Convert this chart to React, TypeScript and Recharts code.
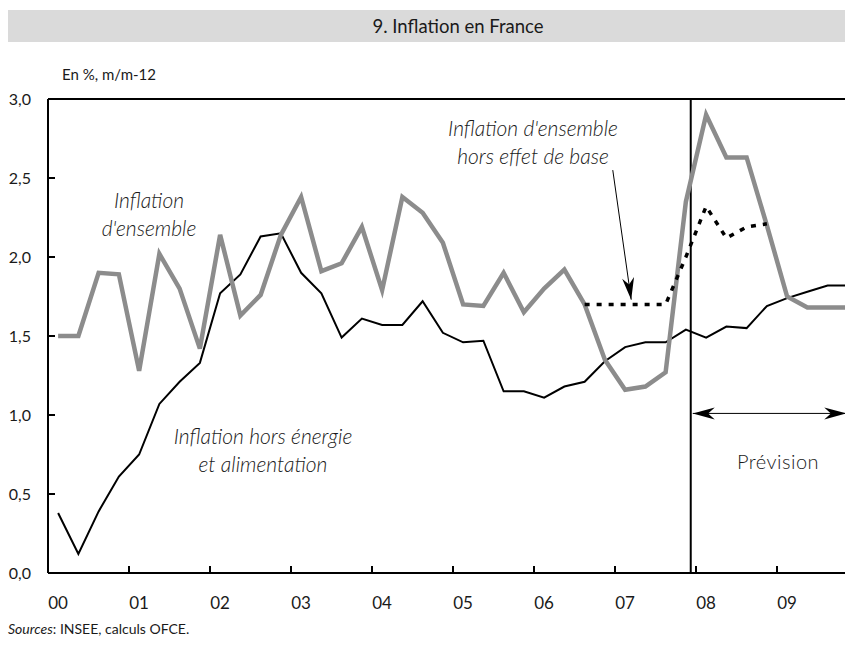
import { LineChart, Line, XAxis, YAxis, ReferenceLine } from 'recharts'

// années affichées sur l'axe (une étiquette par année, données trimestrielles)
const years = ['00', '01', '02', '03', '04', '05', '06', '07', '08', '09']
const quarters = years.flatMap((y) => ['T1', 'T2', 'T3', 'T4'].map((q) => y + q))

// Inflation d'ensemble (gris épais)
const ensemble = [
  1.5, 1.5, 1.9, 1.89, 1.28, 2.02, 1.8, 1.42, 2.14, 1.63,
  1.76, 2.14, 2.38, 1.91, 1.96, 2.19, 1.79, 2.38, 2.28, 2.09,
  1.7, 1.69, 1.9, 1.65, 1.8, 1.92, 1.7, 1.35, 1.16, 1.18,
  1.27, 2.35, 2.9, 2.63, 2.63, 2.2, 1.75, 1.68, 1.68, 1.68
]

// Inflation hors énergie et alimentation (noir fin)
const sousJacente = [
  0.38, 0.12, 0.39, 0.61, 0.75, 1.07, 1.21, 1.33, 1.77, 1.89,
  2.13, 2.15, 1.9, 1.77, 1.49, 1.61, 1.57, 1.57, 1.72, 1.52,
  1.46, 1.47, 1.15, 1.15, 1.11, 1.18, 1.21, 1.34, 1.43, 1.46,
  1.46, 1.54, 1.49, 1.56, 1.55, 1.69, 1.74, 1.78, 1.82, 1.82
]

// Inflation d'ensemble hors effet de base (pointillés)
const horsEffetBase: (number | null)[] = [
  null, null, null, null, null, null, null, null, null, null,
  null, null, null, null, null, null, null, null, null, null,
  null, null, null, null, null, null, 1.7, 1.7, 1.7, 1.7,
  1.7, 2.0, 2.32, 2.12, 2.19, 2.21, null, null, null, null
]

const yTicks = [0, 0.5, 1, 1.5, 2, 2.5, 3]
const xTicks = years.map((_, i) => i * 4)

const data = quarters.map((q, i) => ({
  q,
  x: i + 0.5,
  ensemble: ensemble[i],
  sousJacente: sousJacente[i],
  horsEffetBase: horsEffetBase[i]
}))

const FONT = 'Lato, "Open Sans", sans-serif'
const GRAY = '#8c8c8c'
const TXT = '#1a1a1a'

const XTick = (props: any) => {
  const { x, y, payload } = props
  return (
    <g>
      <line x1={x} y1={y} x2={x} y2={y - 7} stroke="#000" strokeWidth={2} />
      <text x={x + 10} y={y + 36} textAnchor="middle" fontSize={17} fill={TXT} fontFamily={FONT}>
        {years[payload.value / 4]}
      </text>
    </g>
  )
}

const YTick = (props: any) => {
  const { x, y, payload } = props
  return (
    <g>
      <line x1={x} y1={y} x2={x + 7} y2={y} stroke="#000" strokeWidth={2} />
      <text x={x - 17} y={y + 6} textAnchor="end" fontSize={16} fill={TXT} fontFamily={FONT}>
        {payload.value.toFixed(1).replace('.', ',')}
      </text>
    </g>
  )
}

// tête de flèche pleine, pointe en (tx, ty), direction (dx, dy)
const head = (tx: number, ty: number, dx: number, dy: number, len: number, half: number) => {
  const n = Math.hypot(dx, dy)
  const ux = dx / n
  const uy = dy / n
  const bx = tx - ux * len
  const by = ty - uy * len
  const nx = tx - ux * len * 0.7
  const ny = ty - uy * len * 0.7
  return `${tx},${ty} ${bx - uy * half},${by + ux * half} ${nx},${ny} ${bx + uy * half},${by - ux * half}`
}

const Arrow = (props: any) => {
  const { x1, y1, x2, y2 } = props
  return (
    <g>
      <line x1={x1} y1={y1} x2={x2} y2={y2} stroke="#000" strokeWidth={1} />
      <polygon points={head(x2, y2, x2 - x1, y2 - y1, 22, 6)} fill="#000" />
    </g>
  )
}

const DoubleArrow = (props: any) => {
  const { x1, y1, x2, y2 } = props
  return (
    <g>
      <line x1={x1} y1={y1} x2={x2} y2={y2} stroke="#000" strokeWidth={1} />
      <polygon points={head(x1, y1, x1 - x2, y1 - y2, 22, 6)} fill="#000" />
      <polygon points={head(x2, y2, x2 - x1, y2 - y1, 22, 6)} fill="#000" />
    </g>
  )
}

export default function App() {
  return (
    <div
      style={{
        position: 'absolute',
        left: 0,
        top: 0,
        width: 845,
        height: 645,
        overflow: 'hidden',
        background: '#fff',
        fontFamily: FONT,
        color: TXT
      }}
    >
      <div
        style={{
          position: 'absolute',
          left: 8,
          top: 10,
          width: 900,
          height: 32,
          background: '#dadada'
        }}
      />
      <div
        style={{
          position: 'absolute',
          left: 358,
          top: 10,
          width: 200,
          height: 32,
          lineHeight: '32px',
          textAlign: 'center',
          fontSize: 18.5,
          whiteSpace: 'nowrap'
        }}
      >
        9. Inflation en France
      </div>
      <div style={{ position: 'absolute', left: 62, top: 65, fontSize: 15 }}>En %, m/m-12</div>
      <div style={{ position: 'absolute', left: 8, top: 620, fontSize: 14 }}>
        <i>Sources</i>: INSEE, calculs OFCE.
      </div>

      <div style={{ position: 'absolute', left: 0, top: 0 }}>
        <LineChart width={858} height={645} data={data} margin={{ top: 99, right: 0, bottom: 0, left: 0 }}>
          <XAxis
            type="number"
            dataKey="x"
            domain={[0, 40]}
            ticks={xTicks}
            height={72}
            tickSize={0}
            tickMargin={0}
            tickLine={false}
            tick={<XTick />}
            axisLine={{ stroke: '#000', strokeWidth: 2 }}
          />
          <YAxis
            domain={[0, 3]}
            ticks={yTicks}
            width={48}
            tickSize={0}
            tickMargin={0}
            tickLine={false}
            tick={<YTick />}
            axisLine={{ stroke: '#000', strokeWidth: 2 }}
          />
          <ReferenceLine y={3} stroke="#000" strokeWidth={2} />
          <ReferenceLine x={31.74} stroke="#000" strokeWidth={2} />
          <Line
            type="linear"
            dataKey="sousJacente"
            stroke="#000"
            strokeWidth={2}
            dot={false}
            isAnimationActive={false}
          />
          <Line
            type="linear"
            dataKey="ensemble"
            stroke={GRAY}
            strokeWidth={4.5}
            dot={false}
            isAnimationActive={false}
          />
          <Line
            type="linear"
            dataKey="horsEffetBase"
            stroke="#000"
            strokeWidth={3.5}
            strokeDasharray="5 7"
            dot={false}
            isAnimationActive={false}
          />
          <ReferenceLine
            segment={[{ x: 27.89, y: 2.55 }, { x: 28.8, y: 1.73 }]}
            shape={<Arrow />}
          />
          <ReferenceLine
            segment={[{ x: 31.84, y: 1.01 }, { x: 39.42, y: 1.01 }]}
            shape={<DoubleArrow />}
          />
        </LineChart>
      </div>

      <svg
        width={845}
        height={645}
        style={{ position: 'absolute', left: 0, top: 0, pointerEvents: 'none' }}
        fontFamily={FONT}
        fontWeight={300}
        fontSize={21}
        fill={TXT}
      >
        <g fontStyle="italic" textAnchor="middle">
          <text x={149} y={208}>Inflation</text>
          <text x={149} y={236}>d'ensemble</text>
          <text x={533} y={136}>Inflation d'ensemble</text>
          <text x={533} y={164}>hors effet de base</text>
          <text x={263} y={444}>Inflation hors énergie</text>
          <text x={263} y={472}>et alimentation</text>
        </g>
        <text x={778} y={469} textAnchor="middle" letterSpacing={0.5} fontSize={20}>Prévision</text>
      </svg>
    </div>
  )
}
